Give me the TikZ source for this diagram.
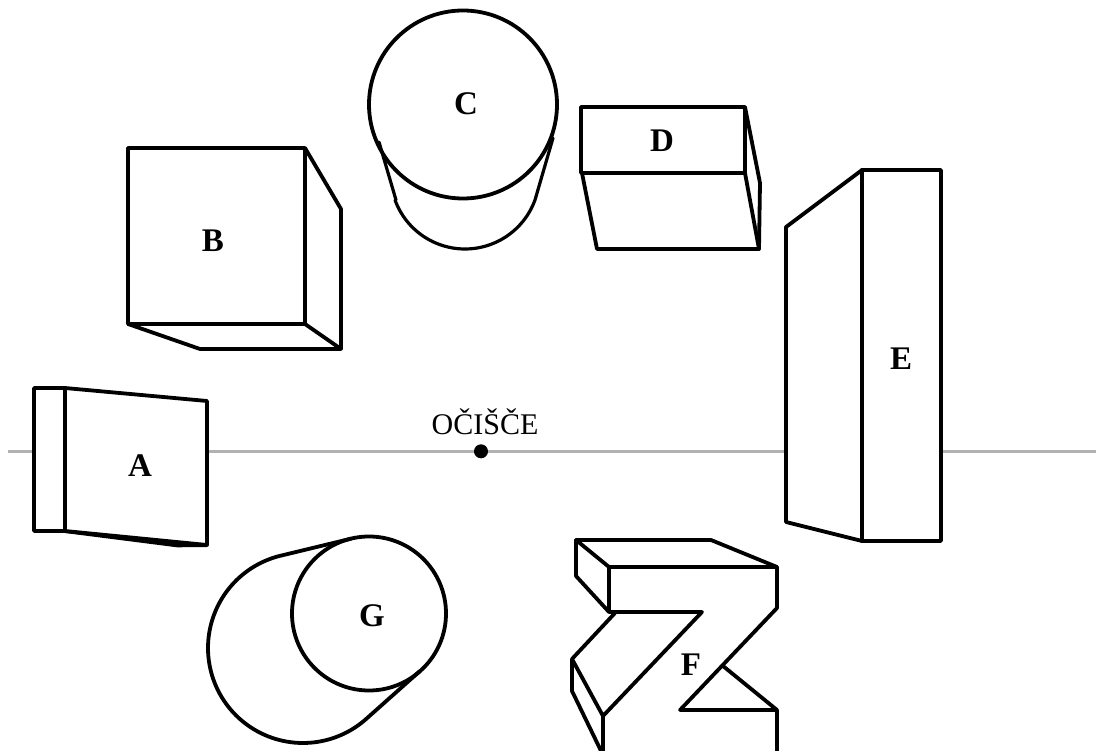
\documentclass[tikz,border=0pt]{standalone}
\usepackage{fontspec}
\setmainfont{Liberation Serif}
\tikzset{
  ln/.style={line width=3.8pt,line join=round,line cap=round,black},
  thinln/.style={line width=3.2pt,line join=round,line cap=round,black},
  lbl/.style={font=\fontsize{33}{33}\selectfont\bfseries,inner sep=0pt,text=black},
}
\begin{document}
\begin{tikzpicture}[x=1pt,y=-1pt]
\useasboundingbox (0,0) rectangle (1096,751);
\fill[white] (0,0) rectangle (1096,751);
% horizon
\draw[line width=3.2pt,color=black!30] (8,451.3) -- (1096,451.3);
% A
\filldraw[ln,fill=white] (34,388) -- (65,388) -- (207,401) -- (207,545) -- (65,531) -- (34,531) -- cycle;
\draw[ln] (65,388) -- (65,531);
\fill[black] (65,530.5) -- (177,541.5) -- (207,544) -- (207,547) -- (177,547.3) -- (65,533) -- cycle;
\node[lbl] (a) at (140,466) {A};
% B
\draw[ln] (128,148) rectangle (305,324);
\draw[ln] (305,148) -- (341,209) -- (341,349) -- (200,349) -- (128,324);
\draw[ln] (305,324) -- (341,349);
\node[lbl] (b) at (213,241) {B};
% C
\draw[thinln] (379,142) -- (396,200) plot[domain=160:20,samples=60] ({465+74.5*cos(\x)},{174.5+74.5*sin(\x)}) -- (553,138);
\draw[ln] (463,104.5) circle[radius=94];
\node[lbl] (c) at (466,104) {C};
% D
\draw[ln] (581,107) rectangle (745,173);
\draw[ln] (582,173) -- (597,249) -- (759,249) -- (745,173);
\draw[ln] (745,107) -- (760,183) -- (759,249);
\node[lbl] (d) at (662,141) {D};
% E
\filldraw[ln,fill=white] (862,170) -- (941,170) -- (941,541) -- (862,541) -- (786,522) -- (786,227) -- cycle;
\draw[ln] (862,170) -- (862,541);
\node[lbl] (e) at (901,359) {E};
% F
\begin{scope}
\clip (0,0) rectangle (1096,751);
\draw[ln] (576,540) -- (711,540) -- (777,567) -- (609,567) -- cycle;
\draw[ln] (576,540) -- (576,576) -- (609,612) -- (609,567);
\draw[ln] (609,612) -- (702,612) -- (603,716) -- (572,659) -- (615,613);
\draw[ln] (777,567) -- (777,608) -- (680,710) -- (777,710) -- (777,760);
\draw[ln] (723,666) -- (777,710);
\draw[ln] (572,659) -- (572,691) -- (603,755);
\draw[ln] (603,716) -- (603,755);
\end{scope}
\node[lbl] (f) at (691,665) {F};
% G
\draw[ln] (351,538.7) -- (280.7,555.7) plot[domain=-103.6:-311.6,samples=90] ({303+95*cos(\x)},{648+95*sin(\x)}) -- (420,671);
\draw[ln] (369,613.5) circle[radius=77];
\node[lbl] (g) at (372,616) {G};
% origin
\fill[black] (481,451.3) circle[radius=7];
\node[font=\fontsize{30}{30}\selectfont,inner sep=0pt,anchor=base] (o) at (485,435) {OČIŠČE};
\end{tikzpicture}
\end{document}
